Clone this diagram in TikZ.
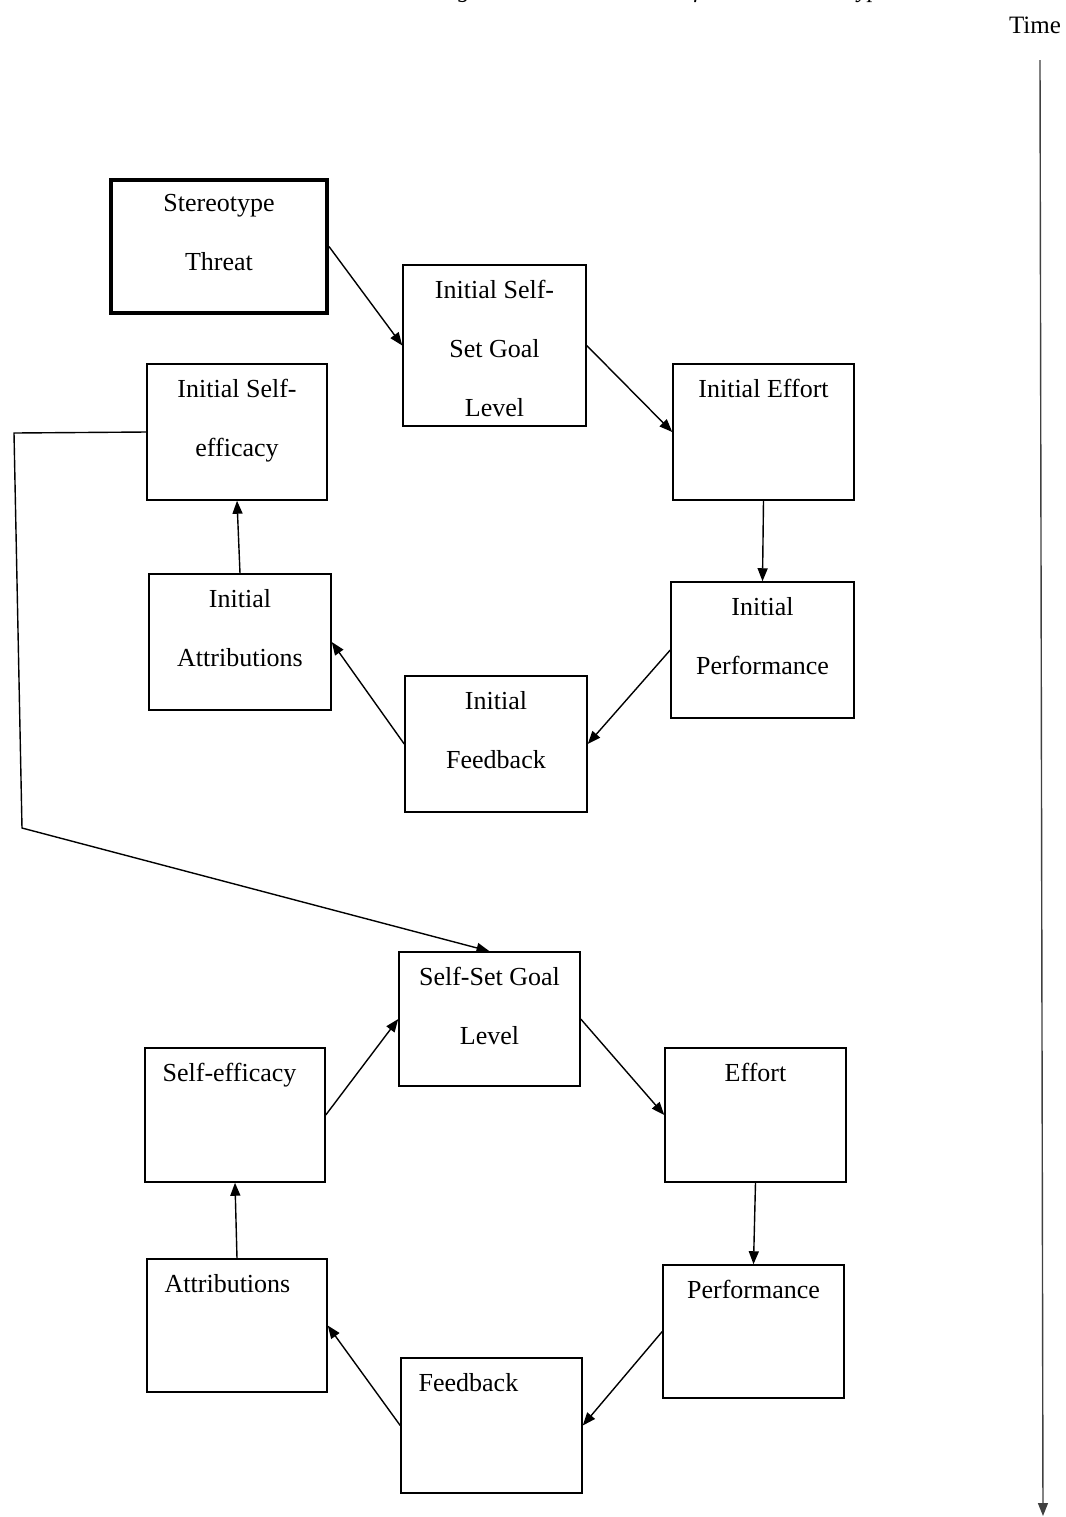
\documentclass[tikz,border=0pt]{standalone}
\usepackage{fontspec}
\setmainfont{Liberation Serif}
\usetikzlibrary{arrows.meta}

\begin{document}
\begin{tikzpicture}[x=0.5pt,y=-0.5pt]
\tikzset{
  box/.style={draw,line width=0.75pt,inner sep=0pt},
  lbl/.style={inner sep=0pt,align=center,font=\fontsize{13}{29.5}\selectfont},
  toptext/.style={anchor=north,at=(#1.north),yshift=-8pt},
  topleft/.style={anchor=north west,at=(#1.north west),xshift=9pt,yshift=-8pt},
  arr/.style={-{Triangle[length=6.5pt,width=5pt]},line width=0.7pt}
}
\newcommand\blk[8][]{
  \node[box,#1,minimum width={(#5-#3)*0.5pt},minimum height={(#6-#4)*0.5pt}] (#2) at ({(#3+#5)/2},{(#4+#6)/2}) {};
  \node[lbl,#7=#2] (#2-t) {#8};
}
\useasboundingbox (0,0) rectangle (1066,1517);
\clip (0,0) rectangle (1066,1517);

\node[font=\fontsize{12}{14}\selectfont\itshape,anchor=base east] (title) at (967,-3) {Figure 1. Process Model of Chronic Stereotype Threat};
\node[font=\fontsize{12.5}{15}\selectfont] (time) at (1035,25) {Time};

\blk[line width=2pt]{st}{111}{180}{327}{313}{toptext}{Stereotype\\Threat}
\blk{isg}{403}{265}{586}{426}{toptext}{Initial Self-\\Set Goal\\Level}
\blk{ie}{673}{364}{854}{500}{toptext}{Initial Effort}
\blk{ise}{147}{364}{327}{500}{toptext}{Initial Self-\\efficacy}
\blk{ip}{671}{582}{854}{718}{toptext}{Initial\\Performance}
\blk{ia}{149}{574}{331}{710}{toptext}{Initial\\Attributions}
\blk{ifb}{405}{676}{587}{812}{toptext}{Initial\\Feedback}

\blk{ssg}{399}{952}{580}{1086}{toptext}{Self-Set Goal\\Level}
\blk{se}{145}{1048}{325}{1182}{topleft}{Self-efficacy}
\blk{eff}{665}{1048}{846}{1182}{toptext}{Effort}
\blk{perf}{663}{1265}{844}{1398}{toptext}{Performance}
\blk{att}{147}{1259}{327}{1392}{topleft}{Attributions}
\blk{fb}{401}{1358}{582}{1493}{topleft}{Feedback}

\draw[arr] (st.east) -- (isg.west);
\draw[arr] (isg.east) -- (ie.west);
\draw[arr] (ie.south) -- (ip.north);
\draw[arr] (ip.west) -- (ifb.east);
\draw[arr] (ifb.west) -- (ia.east);
\draw[arr] (ia.north) -- (ise.south);

\coordinate (back1) at (14,433);
\coordinate (back2) at (22,828);
\draw[arr] (ise.west) -- (back1) -- (back2) -- (ssg.north);

\draw[arr] (ssg.east) -- (eff.west);
\draw[arr] (eff.south) -- (perf.north);
\draw[arr] (perf.west) -- (fb.east);
\draw[arr] (fb.west) -- (att.east);
\draw[arr] (att.north) -- (se.south);
\draw[arr] (se.east) -- (ssg.west);

\coordinate (tstart) at (1040,60);
\coordinate (tend) at (1043,1516);
\draw[arr,black!75] (tstart) -- (tend);
\end{tikzpicture}
\end{document}
